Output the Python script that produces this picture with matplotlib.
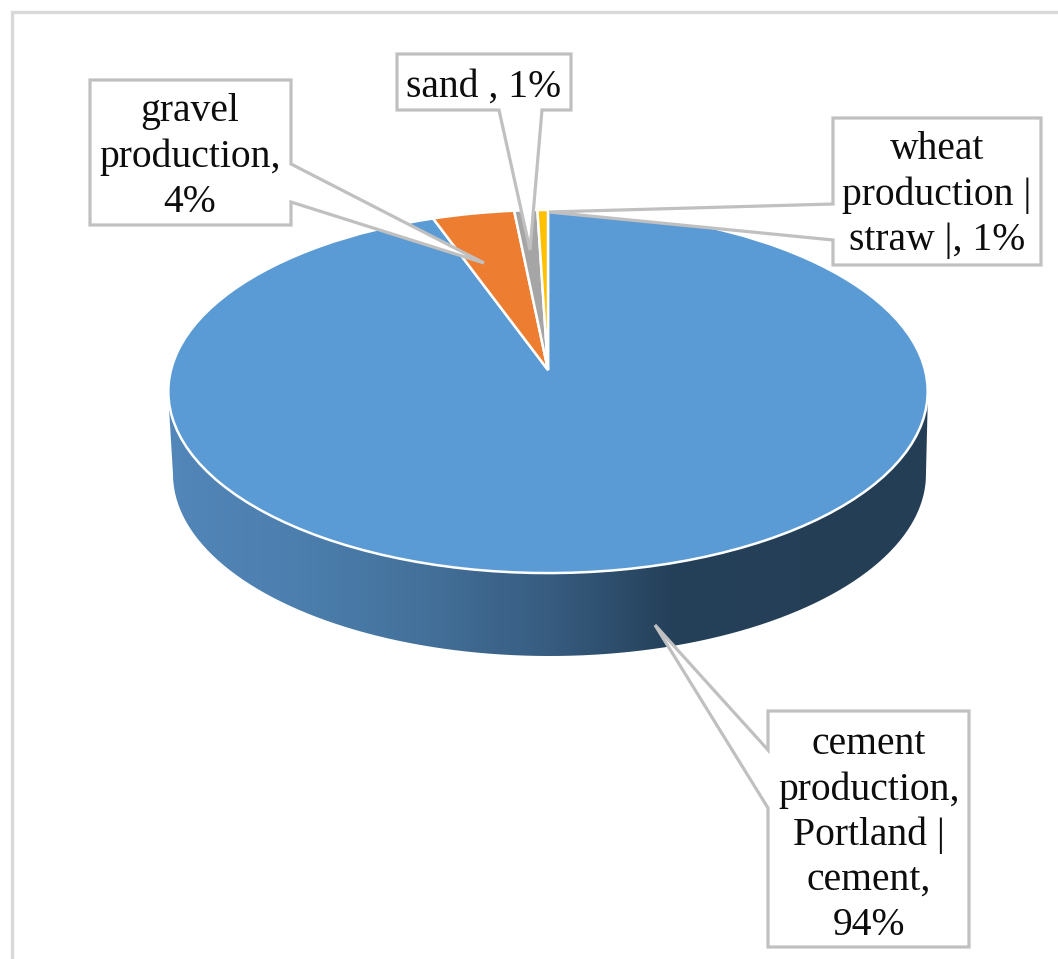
import numpy as np
import matplotlib
matplotlib.use("Agg")
import matplotlib.pyplot as plt
from matplotlib.patches import Polygon, PathPatch
from matplotlib.path import Path
from matplotlib.transforms import Transform
from matplotlib.colors import LinearSegmentedColormap

plt.rcParams['font.family'] = ['Liberation Serif', 'DejaVu Serif']

# data
categories = ["cement production, Portland | cement", "gravel production", "sand", "wheat production | straw |"]
shares = [94.5, 3.9, 1.1, 0.5]      # slice sizes
labels = ["cement\nproduction,\nPortland |\ncement,\n94%", "gravel\nproduction,\n4%", "sand , 1%",
          "wheat\nproduction |\nstraw |, 1%"]
colors = ["#5B9BD5", "#ED7D31", "#A5A5A5", "#FFC000"]

W, H = 1058, 959
APEX = (548.0, 370.0)
K, A, B = 0.1185, 377.0, 179.0


class Persp(Transform):
    """Tilted-disc projection of the unit pie onto pixel coordinates."""
    input_dims = output_dims = 2
    has_inverse = False
    is_affine = False

    def transform_non_affine(self, values):
        v = np.asarray(values, float)
        w = 1 + K * v[:, 1]
        return np.column_stack([APEX[0] + A * v[:, 0] / w, APEX[1] - B * v[:, 1] / w])


fig = plt.figure(figsize=(W / 100, H / 100), dpi=100, facecolor="white")
ax = fig.add_axes([0, 0, 1, 1])

wedges, _ = ax.pie(shares, colors=colors, startangle=90, counterclock=False, radius=1,
                   wedgeprops=dict(edgecolor="white", linewidth=1.8, zorder=3))
persp = Persp()
for w in wedges:
    w.set_transform(persp + ax.transData)

ax.set_aspect("auto")
ax.set_xlim(0, W)
ax.set_ylim(H, 0)
ax.axis("off")

# frame: only the left and top edges are in view
ax.plot([11.5, 11.5, W + 5], [H + 5, 11.5, 11.5], color="#d9d9d9", lw=2.4,
        solid_joinstyle="miter", zorder=0)

# pie side with gradient
t = np.linspace(np.pi, 2 * np.pi, 300)
ux, uy = 548 + 380 * np.cos(t), 391.5 - 181.5 * np.sin(t)
lx, ly = 549.5 + 376.5 * np.cos(t), 474 - 182 * np.sin(t)
side = np.vstack([np.column_stack([ux, uy]), np.column_stack([lx, ly])[::-1]])
cmap = LinearSegmentedColormap.from_list("side", [(0, "#5386B9"), (0.17, "#4C7FAE"), (0.33, "#44719B"),
                                                  (0.50, "#375C80"), (0.58, "#2E4F6E"), (0.66, "#254059"),
                                                  (1, "#243E55")])
im = ax.imshow(np.linspace(0, 1, 512)[None, :], extent=(169, 929, H, 0), aspect="auto", cmap=cmap,
               vmin=0, vmax=1, zorder=1)
ax.set_xlim(0, W)
ax.set_ylim(H, 0)
clip = PathPatch(Path(side, closed=False), transform=ax.transData, facecolor="none", edgecolor="none")
ax.add_patch(clip)
im.set_clip_path(clip)

# callouts
EDGE = "#c0c0c0"
callouts = [
    ([(90, 80), (291, 80), (291, 164), (484, 263), (291, 202), (291, 225), (90, 225)], (190, 157), labels[1]),
    ([(397, 54), (571, 54), (571, 110), (542, 110), (530, 250), (499, 110), (397, 110)], (484, 87), labels[2]),
    ([(833, 118), (1041, 118), (1041, 265), (833, 265), (833, 240), (549, 212), (833, 204)], (937, 195), labels[3]),
    ([(768, 711), (969, 711), (969, 947), (768, 947), (768, 808), (655, 625), (768, 750)], (869, 835), labels[0]),
]
for poly, (tx, ty), lab in callouts:
    ax.add_patch(Polygon(poly, closed=True, facecolor="white", edgecolor=EDGE, linewidth=2.3,
                         joinstyle="miter", zorder=5))
    ax.text(tx, ty, lab, ha="center", va="center", fontsize=28.5, color="#0d0d0d", linespacing=1.28, zorder=6)

fig.savefig("out.png", dpi=100, facecolor="white")
